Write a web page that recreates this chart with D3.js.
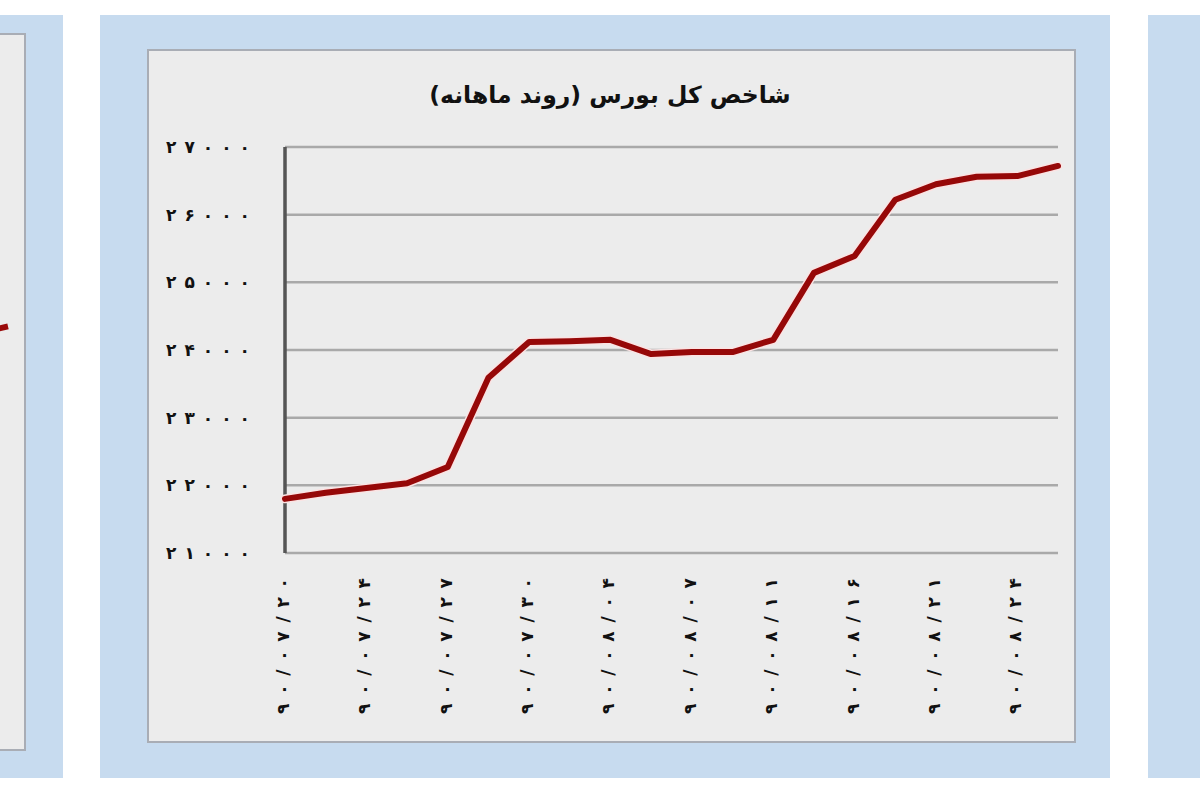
<!DOCTYPE html>
<html><head><meta charset="utf-8">
<script src="https://cdn.jsdelivr.net/npm/d3@7/dist/d3.min.js"></script>
<style>body{margin:0;background:#fff;} svg{display:block;}</style>
</head><body>
<svg id="c" width="1200" height="800"></svg>
<script>
// ---- data ----
const title = "شاخص کل بورس (روند ماهانه)";
const dates = ["۹۰/۰۷/۲۰","۹۰/۰۷/۲۱","۹۰/۰۷/۲۴","۹۰/۰۷/۲۵","۹۰/۰۷/۲۷","۹۰/۰۷/۲۸","۹۰/۰۷/۳۰","۹۰/۰۸/۰۱",
  "۹۰/۰۸/۰۴","۹۰/۰۸/۰۵","۹۰/۰۸/۰۷","۹۰/۰۸/۰۸","۹۰/۰۸/۱۱","۹۰/۰۸/۱۴","۹۰/۰۸/۱۶","۹۰/۰۸/۱۷",
  "۹۰/۰۸/۲۱","۹۰/۰۸/۲۲","۹۰/۰۸/۲۴","۹۰/۰۸/۲۵"];
const indexValues = [21800,21890,21960,22030,22270,23590,24120,24130,24150,23940,
  23970,23970,24150,25140,25390,26220,26450,26560,26570,26720];
const yTicks = [21000,22000,23000,24000,25000,26000,27000];
const leftPanelValues = [24250, 24350];

const fa = n => String(n).replace(/\d/g, d => "۰۱۲۳۴۵۶۷۸۹"[d]);

const svg = d3.select("#c");
const blue = "#c7dbef", panelFill = "#ececec", panelStroke = "#a9adb5";

// ---- panels ----
svg.append("rect").attr("x",0).attr("y",15).attr("width",63).attr("height",763).attr("fill",blue);
svg.append("rect").attr("x",-5).attr("y",34).attr("width",30).attr("height",716).attr("fill",panelFill).attr("stroke",panelStroke).attr("stroke-width",2);
svg.append("rect").attr("x",1148).attr("y",15).attr("width",60).attr("height",763).attr("fill",blue);
svg.append("rect").attr("x",100).attr("y",15).attr("width",1010).attr("height",763).attr("fill",blue);
svg.append("rect").attr("x",148).attr("y",50).attr("width",927).attr("height",692).attr("fill",panelFill).attr("stroke",panelStroke).attr("stroke-width",2);

// left neighbour fragment (clipped)
svg.append("clipPath").attr("id","lclip").append("rect").attr("x",0).attr("y",34).attr("width",24).attr("height",716);
const lx = d3.scaleLinear().domain([0,1]).range([-20,8]);
const ly = d3.scaleLinear().domain([21000,27000]).range([553,147]);
svg.append("path").datum(leftPanelValues).attr("clip-path","url(#lclip)")
  .attr("d", d3.line().x((d,i)=>lx(i)).y(d=>ly(d)))
  .attr("fill","none").attr("stroke","#9a0a0a").attr("stroke-width",6);

// ---- main chart ----
const x = d3.scalePoint().domain(d3.range(dates.length)).range([285,1058]);
const y = d3.scaleLinear().domain([21000,27000]).range([553,147]);

// gridlines
svg.append("g").selectAll("line").data(yTicks).join("line")
  .attr("x1",285).attr("x2",1058).attr("y1",d=>y(d)).attr("y2",d=>y(d))
  .attr("stroke","#a9a9a9").attr("stroke-width",2.5);

// y axis line
svg.append("line").attr("x1",285).attr("x2",285).attr("y1",y(27000)).attr("y2",y(21000))
  .attr("stroke","#555").attr("stroke-width",3.5);

// y tick labels
svg.append("g").selectAll("text").data(yTicks).join("text")
  .attr("x",250).attr("y",d=>y(d)+6).attr("text-anchor","end")
  .attr("font-family","DejaVu Sans").attr("font-weight","bold").attr("font-size",17)
  .attr("textLength",84).attr("lengthAdjust","spacing")
  .attr("fill","#111").attr("direction","ltr")
  .text(d=>fa(d));

// x labels (every other)
svg.append("g").selectAll("text").data(dates.filter((d,i)=>i%2===0)).join("text")
  .attr("transform",(d,i)=>`translate(${x(i*2)+4},578) rotate(-90)`)
  .attr("text-anchor","end")
  .attr("font-family","DejaVu Sans").attr("font-weight","bold").attr("font-size",17)
  .attr("textLength",136).attr("lengthAdjust","spacing")
  .attr("fill","#111").attr("direction","ltr")
  .text(d=>d);

// line
const line = d3.line().x((d,i)=>x(i)).y(d=>y(d)).curve(d3.curveLinear);
svg.append("path").datum(indexValues).attr("d",line).attr("fill","none")
  .attr("stroke","#fbe3e3").attr("stroke-width",9).attr("stroke-linejoin","round").attr("stroke-linecap","round");
svg.append("path").datum(indexValues).attr("d",line).attr("fill","none")
  .attr("stroke","#960808").attr("stroke-width",6).attr("stroke-linejoin","round").attr("stroke-linecap","round");

// title
svg.append("text").attr("x",610).attr("y",103).attr("text-anchor","middle")
  .attr("font-family","DejaVu Sans").attr("font-weight","bold").attr("font-size",23.5)
  .attr("fill","#111").attr("direction","rtl").text(title);
</script>
</body></html>
